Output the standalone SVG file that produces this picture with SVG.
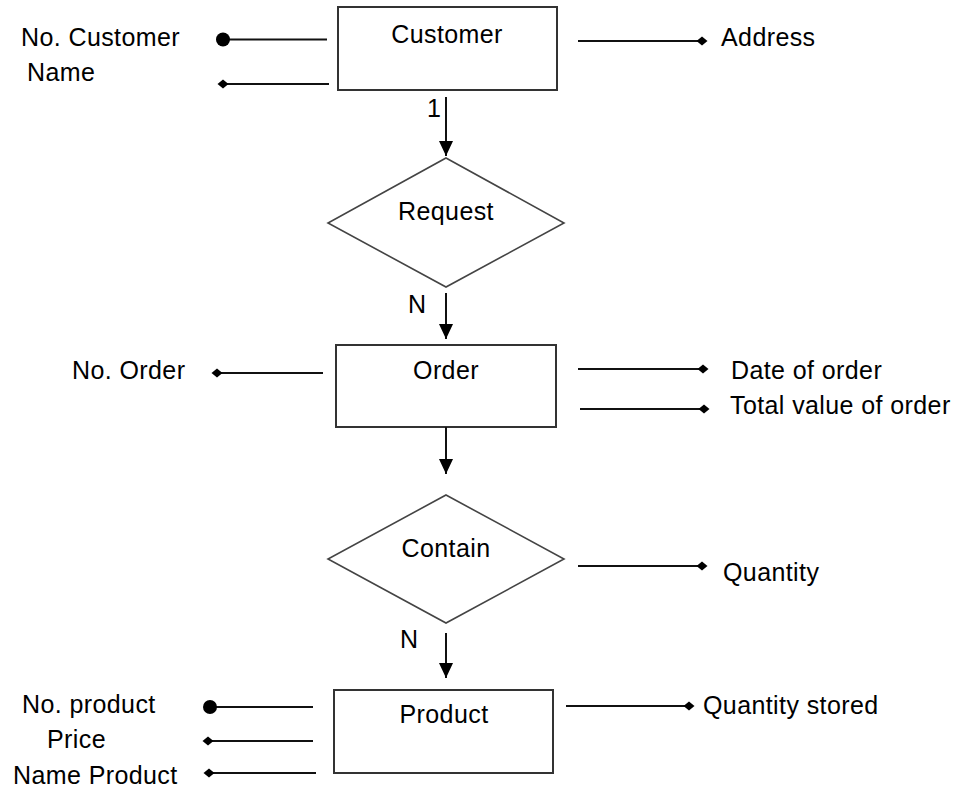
<svg xmlns="http://www.w3.org/2000/svg" width="965" height="792" viewBox="0 0 965 792">
  <style>
    .entity { fill: #fff; stroke: #333; stroke-width: 2; }
    .relation { fill: #fff; stroke: #444; stroke-width: 1.6; }
    .label { font-family: "Liberation Sans", Arial, sans-serif; font-size: 25px; fill: #000; letter-spacing: 0.4px; }
    .mid { text-anchor: middle; }
    .link { stroke: #111; stroke-width: 2; fill: none; }
    .flow { marker-end: url(#arrow); }
    .attr { marker-end: url(#diamond); }
    .key { marker-end: url(#dot); }
  </style>
  <defs>
    <marker id="arrow" markerUnits="userSpaceOnUse" markerWidth="15" markerHeight="14" refX="15" refY="7" orient="auto">
      <path d="M0,0 L15,7 L0,14 z" fill="#000"/>
    </marker>
    <marker id="diamond" markerUnits="userSpaceOnUse" markerWidth="12" markerHeight="12" refX="6" refY="6" orient="auto">
      <path d="M0.5,6 L6,1.5 L11.5,6 L6,10.5 z" fill="#000"/>
    </marker>
    <marker id="dot" markerUnits="userSpaceOnUse" markerWidth="16" markerHeight="16" refX="8" refY="8" orient="auto">
      <circle cx="8" cy="8" r="7" fill="#000"/>
    </marker>
  </defs>

  <rect width="965" height="792" fill="#fff"/>

  <!-- entities and relationships -->
  <g id="customer">
    <rect class="entity" x="338" y="7" width="219" height="83"/>
    <text class="label mid" x="447" y="43">Customer</text>
  </g>
  <g id="request">
    <polygon class="relation" points="446,158 564,223 446,287 328,223"/>
    <text class="label mid" x="446" y="220">Request</text>
  </g>
  <g id="order">
    <rect class="entity" x="336" y="345" width="220" height="82"/>
    <text class="label mid" x="446" y="379">Order</text>
  </g>
  <g id="contain">
    <polygon class="relation" points="446,495 564,559 446,623 328,559"/>
    <text class="label mid" x="446" y="557">Contain</text>
  </g>
  <g id="product">
    <rect class="entity" x="334" y="690" width="219" height="83"/>
    <text class="label mid" x="444" y="723">Product</text>
  </g>

  <!-- attributes -->
  <g id="attr-no-customer"><text class="label" x="21" y="46">No. Customer</text></g>
  <g id="attr-name"><text class="label" x="27" y="81">Name</text></g>
  <g id="attr-address"><text class="label" x="721" y="46">Address</text></g>
  <g id="attr-no-order"><text class="label" x="72" y="379">No. Order</text></g>
  <g id="attr-date"><text class="label" x="731" y="379">Date of order</text></g>
  <g id="attr-total"><text class="label" x="730" y="414">Total value of order</text></g>
  <g id="attr-quantity"><text class="label" x="723" y="581">Quantity</text></g>
  <g id="attr-no-product"><text class="label" x="22" y="713">No. product</text></g>
  <g id="attr-price"><text class="label" x="47" y="748">Price</text></g>
  <g id="attr-name-product"><text class="label" x="13" y="784">Name Product</text></g>
  <g id="attr-quantity-stored"><text class="label" x="703" y="714">Quantity stored</text></g>

  <!-- connectors -->
  <g id="connectors">
    <line class="link flow" x1="446" y1="97" x2="446" y2="156"/>
    <line class="link flow" x1="446" y1="293" x2="446" y2="339"/>
    <line class="link flow" x1="446" y1="427" x2="446" y2="474"/>
    <line class="link flow" x1="446" y1="633" x2="446" y2="678"/>

    <line class="link key" x1="327" y1="39.5" x2="223" y2="39.5"/>
    <line class="link attr" x1="329" y1="84" x2="223" y2="84"/>
    <line class="link attr" x1="578" y1="41" x2="702" y2="41"/>

    <line class="link attr" x1="323" y1="373" x2="217" y2="373"/>
    <line class="link attr" x1="578" y1="369" x2="703" y2="369"/>
    <line class="link attr" x1="580" y1="409" x2="704" y2="409"/>

    <line class="link attr" x1="578" y1="566" x2="702" y2="566"/>

    <line class="link key" x1="313" y1="707" x2="210" y2="707"/>
    <line class="link attr" x1="313" y1="741" x2="208" y2="741"/>
    <line class="link attr" x1="316" y1="773" x2="209" y2="773"/>
    <line class="link attr" x1="566" y1="706" x2="689" y2="706"/>

    <text class="label" x="427" y="117">1</text>
    <text class="label" x="408" y="313">N</text>
    <text class="label" x="400" y="648">N</text>
  </g>
</svg>
